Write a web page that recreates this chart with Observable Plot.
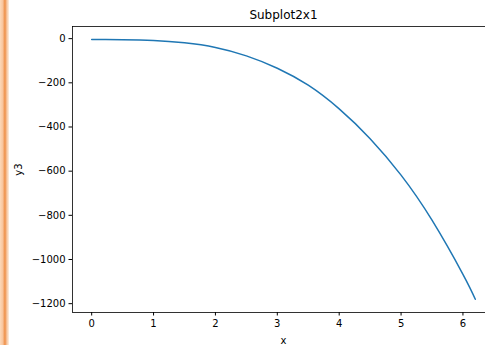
<!DOCTYPE html>
<html>
<head>
<meta charset="utf-8">
<script src="https://cdn.jsdelivr.net/npm/d3@7"></script>
<script src="https://cdn.jsdelivr.net/npm/@observablehq/plot@0.6"></script>
<style>
  html, body { margin: 0; padding: 0; background: #fff; width: 485px; height: 345px; overflow: hidden; }
  #wrap { position: relative; width: 485px; height: 345px; overflow: hidden; }
  #chart { position: absolute; left: 0; top: 0; width: 494px; }
  #chart svg { max-width: none !important; }
  #strip { position: absolute; left: 0; top: 0; width: 9px; height: 345px; z-index: 2;
    background: linear-gradient(to right, #fcd8b8 0%, #f9c59d 30%, #ee8e46 55%, #f6c29a 75%, #fdf0e4 100%); }
</style>
</head>
<body>
<div id="wrap"><div id="strip"></div><div id="chart"></div></div>
<script>
const title = "Subplot2x1";
const xLabel = "x";
const yLabel = "y3";
const xValues = [0, 0.5, 1, 1.5, 2, 2.5, 3, 3.5, 4, 4.5, 5, 5.5, 6, 6.2];
const y3Values = [-4, -4.6, -8, -19, -40, -78, -134, -211, -318, -453, -618, -822, -1067, -1180];
const xTicks = [0, 1, 2, 3, 4, 5, 6];
const yTicks = [0, -200, -400, -600, -800, -1000, -1200];

const data = xValues.map((x, i) => ({x, y: y3Values[i]}));

const chart = Plot.plot({
  width: 494,
  height: 345,
  marginLeft: 72,
  marginRight: 0,
  marginTop: 26,
  marginBottom: 33,
  style: {fontFamily: "DejaVu Sans", fontSize: "10px", color: "#000", background: "transparent", overflow: "visible", maxWidth: "none"},
  x: {domain: [-0.31, 6.51]},
  y: {domain: [-1240, 55]},
  marks: [
    Plot.line(data, {x: "x", y: "y", stroke: "#1f77b4", strokeWidth: 1.5, curve: "natural"}),
    Plot.frame({stroke: "#000", strokeWidth: 0.8}),
    Plot.axisX({ticks: xTicks, tickSize: 3.5, tickPadding: 3.5, tickFormat: d3.format("d"),
      label: xLabel, labelAnchor: "center", labelArrow: "none", labelOffset: 31}),
    Plot.axisY({ticks: yTicks, tickSize: 3.5, tickPadding: 3.5, tickFormat: d => d3.format("d")(d),
      label: yLabel, labelAnchor: "center", labelArrow: "none", labelOffset: 58}),
    Plot.text([title], {text: d => d, frameAnchor: "top", dy: -11, fontSize: 12, lineAnchor: "middle"})
  ]
});
document.getElementById("chart").appendChild(chart);
</script>
</body>
</html>
